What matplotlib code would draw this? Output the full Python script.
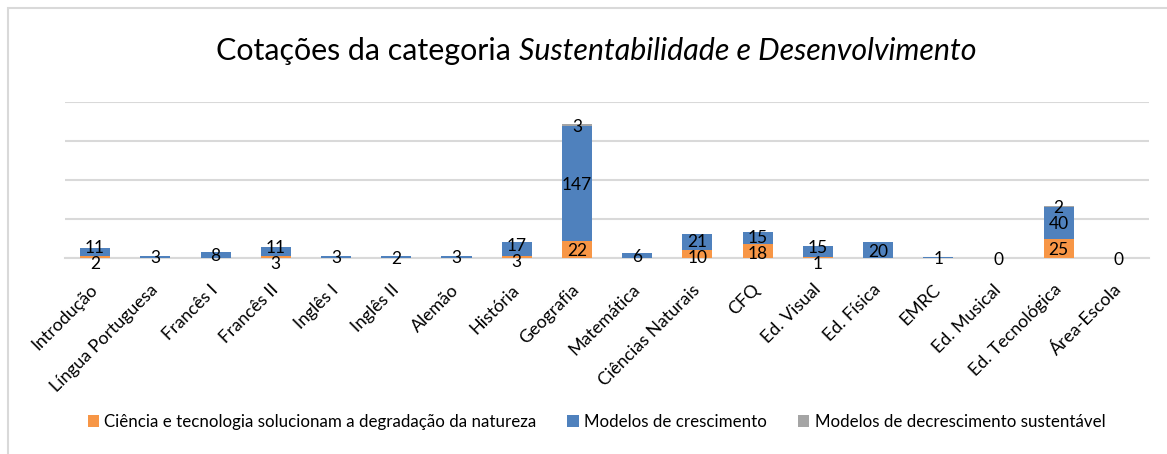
import numpy as np
import matplotlib.pyplot as plt
from matplotlib.patches import Rectangle

plt.rcParams['font.family'] = ['Lato', 'DejaVu Sans']

disciplinas = ['Introdução', 'Língua Portuguesa', 'Francês I', 'Francês II', 'Inglês I',
               'Inglês II', 'Alemão', 'História', 'Geografia', 'Matemática',
               'Ciências Naturais', 'CFQ', 'Ed. Visual', 'Ed. Física', 'EMRC',
               'Ed. Musical', 'Ed. Tecnológica', 'Área-Escola']
ciencia = [2, None, None, 3, None, None, None, 3, 22, None, 10, 18, 1, None, None, None, 25, None]
crescimento = [11, 3, 8, 11, 3, 2, 3, 17, 147, 6, 21, 15, 15, 20, 1, 0, 40, 0]
decrescimento = [None, None, None, None, None, None, None, None, 3, None, None, None, None, None, None, None, 2, None]
series_nomes = ['Ciência e tecnologia solucionam a degradação da natureza',
                'Modelos de crescimento',
                'Modelos de decrescimento sustentável']
cores = ['#F79646', '#4F81BD', '#A5A5A5']

fig = plt.figure(figsize=(11.67, 4.54), dpi=100)
ax_h = 0.3436
ax = fig.add_axes([0.0557, 0.4317, 0.9289, ax_h])

x = np.arange(len(disciplinas))
series = [ciencia, crescimento, decrescimento]
base = np.zeros(len(x))
centros = [[] for _ in x]
for vals, cor, nome in zip(series, cores, series_nomes):
    v = np.array([0 if a is None else a for a in vals], dtype=float)
    ax.bar(x, v, 0.5, bottom=base, color=cor, label=nome, zorder=3)
    for i, a in enumerate(vals):
        if a is not None:
            centros[i].append((base[i] + a / 2, a))
    base = base + v

ax.set_ylim(0, 200)
ax.set_xlim(-0.5, len(x) - 0.5)
ax.set_yticks([0, 50, 100, 150, 200])
ax.yaxis.grid(True, color='#D9D9D9', lw=1.5, zorder=0)
ax.tick_params(axis='y', left=False, labelleft=False)
ax.tick_params(axis='x', length=0, pad=21)
for s in ['top', 'right', 'left']:
    ax.spines[s].set_visible(False)
ax.spines['bottom'].set_color('#D9D9D9')
ax.spines['bottom'].set_linewidth(1.5)
ax.set_xticks(x)
ax.set_xticklabels(disciplinas, rotation=45, ha='right', va='center',
                   rotation_mode='anchor', fontsize=12.8)

# data labels, spread apart when they overlap (like Excel)
px_por_unid = ax_h * 454 / 200
gap = 16 / px_por_unid
for i, lst in enumerate(centros):
    ys = [c for c, _ in lst]
    for k in range(1, len(ys)):
        if ys[k] - ys[k - 1] < gap:
            mid = (ys[k] + ys[k - 1]) / 2
            ys[k - 1] = mid - gap / 2
            ys[k] = mid + gap / 2
    for yv, (_, a) in zip(ys, lst):
        ax.text(x[i], yv, str(a), ha='center', va='center_baseline', fontsize=12.5, zorder=5)

# title with italic part
t1 = fig.text(0, 0.888, 'Cotações da categoria ', fontsize=21.9, va='center')
t2 = fig.text(0, 0.888, 'Sustentabilidade e Desenvolvimento', fontsize=21.9, va='center', style='italic')
fig.canvas.draw()
r = fig.canvas.get_renderer()
w1 = t1.get_window_extent(r).width / fig.bbox.width
w2 = t2.get_window_extent(r).width / fig.bbox.width
x0 = 0.511 - (w1 + w2) / 2
t1.set_x(x0)
t2.set_x(x0 + w1)

fig.legend(loc='center', bbox_to_anchor=(0.511, 0.07), ncol=3, frameon=False,
           fontsize=12.2, handlelength=0.7, handleheight=0.7, handletextpad=0.3,
           columnspacing=1.8)

fig.patches.append(Rectangle((8 / 1167, -0.1), 1.2, 1.1 - 8 / 454, transform=fig.transFigure,
                             fill=False, edgecolor='#D9D9D9', lw=1.5))

fig.savefig('out.png', dpi=100)
